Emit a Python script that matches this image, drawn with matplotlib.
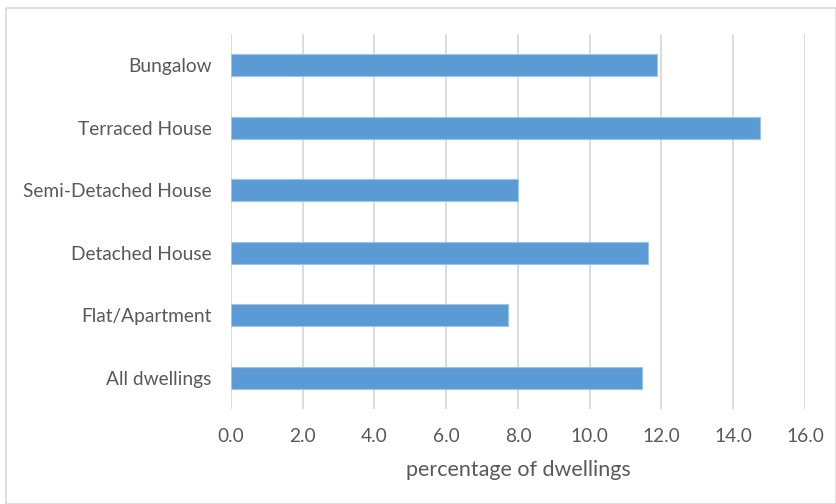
import matplotlib.pyplot as plt
from matplotlib.patches import Rectangle

# dwelling types, bottom to top as drawn
categories = ["All dwellings", "Flat/Apartment", "Detached House",
              "Semi-Detached House", "Terraced House", "Bungalow"]
values = [11.47, 7.73, 11.63, 8.0, 14.74, 11.87]
xticks = [0, 2, 4, 6, 8, 10, 12, 14, 16]

plt.rcParams['font.family'] = ['Lato', 'DejaVu Sans']
text_col = "#595959"

fig = plt.figure(figsize=(8.37, 5.04), dpi=100)
ax = fig.add_axes([231 / 837, 1 - 409 / 504, (805 - 231) / 837, (409 - 34) / 504])

ax.barh(range(len(categories)), values, height=0.35, color="#5B9BD5",
        edgecolor="#9DC3E6", linewidth=0.8, zorder=3)

ax.set_xlim(0, 16)
ax.set_ylim(-0.5, len(categories) - 0.5)
ax.set_xticks(xticks)
ax.set_xticklabels([f"{t:.1f}" for t in xticks])
ax.set_yticks(range(len(categories)))
ax.set_yticklabels(categories)
ax.tick_params(axis="both", length=0, labelsize=13.8, colors=text_col)
ax.tick_params(axis="x", pad=13.5)
ax.tick_params(axis="y", pad=14)
ax.grid(axis="x", color="#D9D9D9", linewidth=1.3, zorder=0)
for s in ax.spines.values():
    s.set_visible(False)
ax.set_xlabel("percentage of dwellings", fontsize=15.5, color=text_col, labelpad=11)

# chart border
fig.patches.append(Rectangle((6 / 837, 0.5 / 504), 830 / 837, 495.5 / 504,
                             transform=fig.transFigure, fill=False,
                             edgecolor="#D9D9D9", linewidth=1.2))

fig.savefig("out.png", dpi=100)
